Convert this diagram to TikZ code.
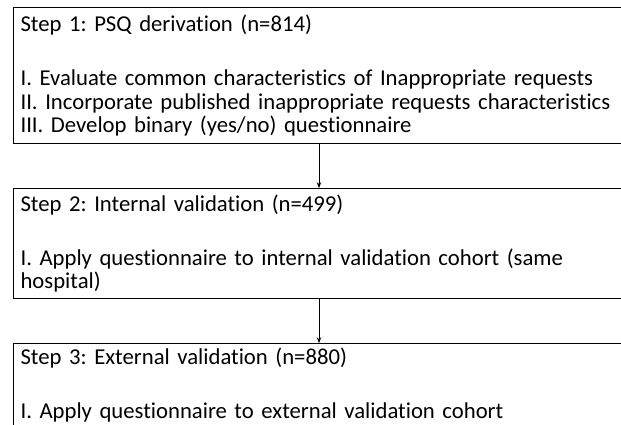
\documentclass[tikz,border=0pt]{standalone}
\usepackage{fontspec}
\setmainfont{Carlito}[Ligatures=NoCommon]
\usetikzlibrary{positioning,arrows.meta}

\tikzset{
  stepbox/.style={draw=black, line width=1.1pt, rectangle, anchor=north west,
    text width=626pt, align=left, inner xsep=7pt, inner ysep=0pt,
    font=\fontsize{22.7}{23.2}\selectfont\frenchspacing},
  flow/.style={-{Stealth[length=6pt,width=4.5pt]}, line width=0.8pt}
}

\begin{document}
\begin{tikzpicture}

%frame of the figure
\useasboundingbox (0,0) rectangle (621pt,-425pt);
\clip (0,0) rectangle (621pt,-425pt);

%draw the three steps
\node[stepbox, minimum height=136pt] (s1) at (13pt,-7pt)
  {Step 1: PSQ derivation (n=814)\\[31pt]
   I. Evaluate common characteristics of Inappropriate requests\\
   II. Incorporate published inappropriate requests characteristics\\
   III. Develop binary (yes/no) questionnaire};
\node[stepbox, minimum height=110pt, below=44pt of s1] (s2)
  {Step 2: Internal validation (n=499)\\[31pt]
   I. Apply questionnaire to internal validation cohort (same\\
   hospital)};
\node[stepbox, minimum height=82pt, below=44pt of s2] (s3)
  {Step 3: External validation (n=880)\\[31pt]
   I. Apply questionnaire to external validation cohort};

%draw arrows between steps
\draw[flow] ([xshift=306pt]s1.south west) -- ([xshift=306pt]s2.north west);
\draw[flow] ([xshift=306pt]s2.south west) -- ([xshift=306pt]s3.north west);

\end{tikzpicture}
\end{document}
